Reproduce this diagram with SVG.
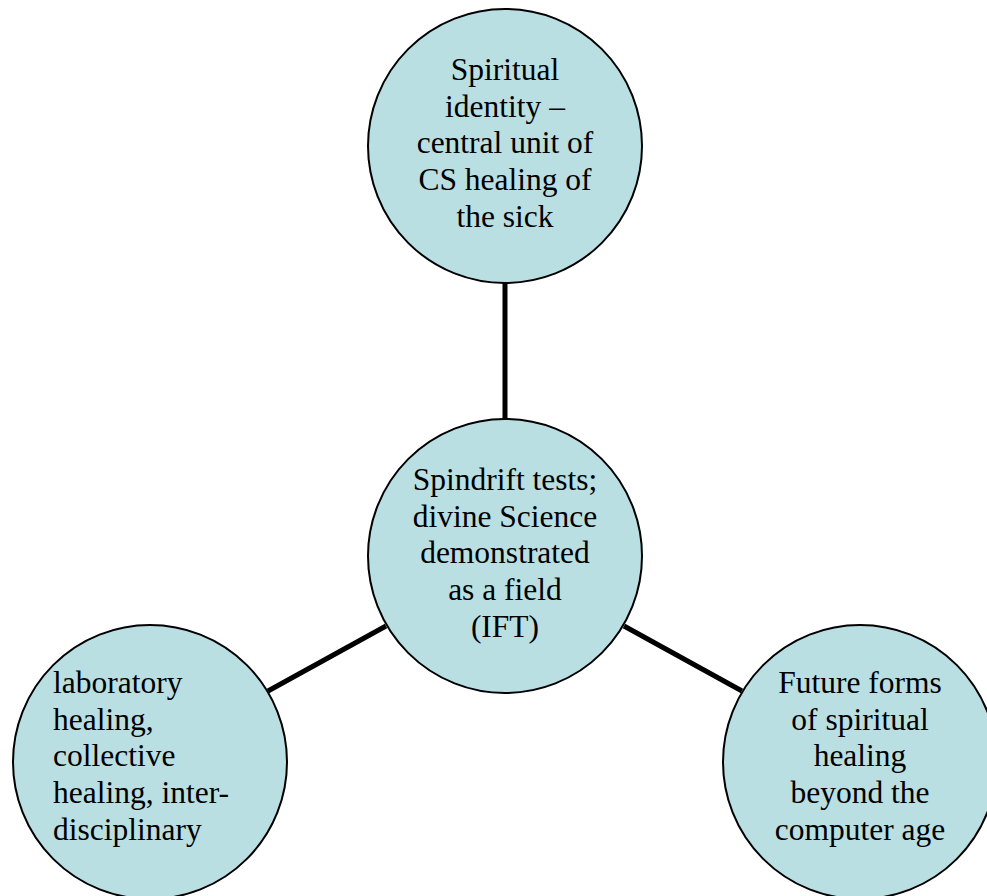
<svg xmlns="http://www.w3.org/2000/svg" width="987" height="896" viewBox="0 0 987 896">
<style>
.node{fill:#b9dfe3;stroke:#000;stroke-width:2}
.edge{stroke:#000;stroke-width:5;fill:none}
text{font-family:"Liberation Serif","Times New Roman",serif;font-size:31.5px;fill:#000}
.c{text-anchor:middle}
</style>
<rect width="987" height="896" fill="#fff"/>
<g id="connectors">
<line class="edge" x1="505" y1="283" x2="505" y2="420"/>
<line class="edge" x1="386" y1="626" x2="268" y2="691"/>
<line class="edge" x1="624" y1="626" x2="742" y2="691"/>
</g>
<g id="top">
<circle class="node" cx="505" cy="146" r="137"/>
<text class="c" x="505" y="80">Spiritual</text>
<text class="c" x="505" y="117">identity –</text>
<text class="c" x="505" y="153">central unit of</text>
<text class="c" x="505" y="190">CS healing of</text>
<text class="c" x="505" y="227">the sick</text>
</g>
<g id="center">
<circle class="node" cx="505" cy="556" r="137"/>
<text class="c" x="505" y="490">Spindrift tests;</text>
<text class="c" x="505" y="527">divine Science</text>
<text class="c" x="505" y="563">demonstrated</text>
<text class="c" x="505" y="600">as a field</text>
<text class="c" x="505" y="637">(IFT)</text>
</g>
<g id="left">
<circle class="node" cx="150" cy="762" r="137"/>
<text x="53" y="693">laboratory</text>
<text x="53" y="730">healing,</text>
<text x="53" y="766">collective</text>
<text x="53" y="803">healing, inter-</text>
<text x="53" y="840">disciplinary</text>
</g>
<g id="right">
<circle class="node" cx="860" cy="762" r="137"/>
<text class="c" x="860" y="693">Future forms</text>
<text class="c" x="860" y="730">of spiritual</text>
<text class="c" x="860" y="766">healing</text>
<text class="c" x="860" y="803">beyond the</text>
<text class="c" x="860" y="840">computer age</text>
</g>
</svg>
